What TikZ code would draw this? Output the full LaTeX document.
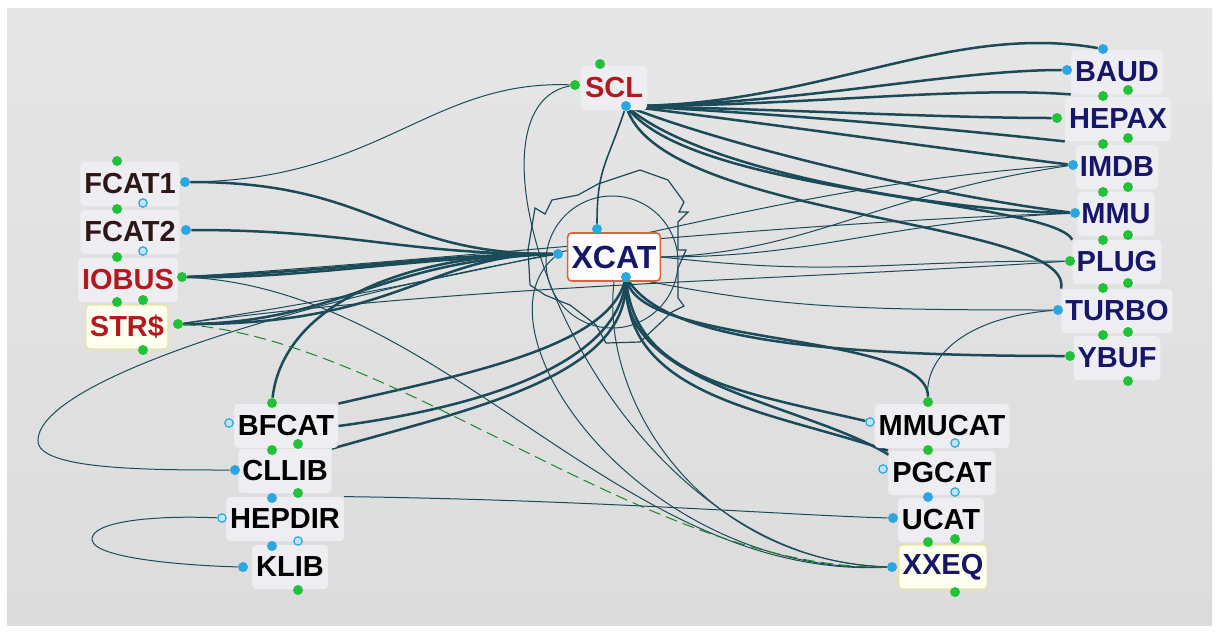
\documentclass[tikz,border=0pt]{standalone}
\usepackage{fontspec}
\setmainfont{Liberation Sans}

\definecolor{bgtop}{HTML}{E6E6E6}
\definecolor{bgmid}{HTML}{C9CACB}
\definecolor{bgbot}{HTML}{DCDCDC}
\definecolor{boxfill}{HTML}{EEEEF2}
\definecolor{yelfill}{HTML}{FFFFF0}
\definecolor{yeldraw}{HTML}{E8E4A0}
\definecolor{linkc}{HTML}{1B4A59}
\definecolor{portblue}{HTML}{2AA6E0}
\definecolor{portgreen}{HTML}{22C13A}
\definecolor{txtblue}{HTML}{17176A}
\definecolor{txtred}{HTML}{B3191E}
\definecolor{txtdark}{HTML}{2E1616}
\definecolor{ringred}{HTML}{E0603A}

\newcommand\lblfont{\bfseries\fontsize{14.5}{16}\selectfont}

\pgfdeclarelayer{bg}
\pgfdeclarelayer{edges}
\pgfsetlayers{bg,edges,main}

\begin{document}
\begin{tikzpicture}[x=0.5pt,y=-0.5pt,
    lbl/.style={rounded corners=2pt, fill=boxfill, inner xsep=2pt, inner ysep=0pt,
      minimum height=22pt, font=\lblfont},
    yel/.style={lbl, fill=yelfill, draw=yeldraw, line width=0.6pt},
    bport/.style={circle, fill=portblue, inner sep=0pt, minimum size=5pt},
    gport/.style={circle, fill=portgreen, inner sep=0pt, minimum size=5pt},
    oport/.style={circle, draw=portblue, fill=white!70!portblue, line width=0.6pt,
      inner sep=0pt, minimum size=4.2pt},
    link/.style={draw=linkc, line width=1.25pt},
    thinlink/.style={draw=linkc, line width=0.5pt},
    gdash/.style={draw=portgreen!70!black, line width=0.5pt, dash pattern=on 6pt off 3pt}]

    \useasboundingbox (0,0) rectangle (1219,633);

    % Background
    \begin{pgfonlayer}{bg}
        \fill[white] (0,0) rectangle (1219,633);
        \shade[top color=bgtop, middle color=bgmid, bottom color=bgbot] (7,8) rectangle (1212,625);
    \end{pgfonlayer}

    % Labels
    \node[lbl, text=txtred] (scl) at (614,88) {SCL};
    \node[lbl, text=txtblue, draw=ringred, line width=0.8pt, fill=white!85!boxfill,
          font=\bfseries\fontsize{16}{18}\selectfont, minimum height=24pt] (xcat) at (614,257) {XCAT};

    \node[lbl, text=txtdark] (fcat1) at (130,184) {FCAT1};
    \node[lbl, text=txtdark] (fcat2) at (130,232) {FCAT2};
    \node[lbl, text=txtred] (iobus) at (128,280) {IOBUS};
    \node[yel, text=txtred] (str) at (127,327) {STR\$};

    \node[lbl, text=txtblue] (baud) at (1117,72) {BAUD};
    \node[lbl, text=txtblue] (hepax) at (1118,119) {HEPAX};
    \node[lbl, text=txtblue] (imdb) at (1117,167) {IMDB};
    \node[lbl, text=txtblue] (mmu) at (1116,214) {MMU};
    \node[lbl, text=txtblue] (plug) at (1117,262) {PLUG};
    \node[lbl, text=txtblue] (turbo) at (1117,311) {TURBO};
    \node[lbl, text=txtblue] (ybuf) at (1117,358) {YBUF};

    \node[lbl, text=black] (bfcat) at (286,426) {BFCAT};
    \node[lbl, text=black] (cllib) at (285,471) {CLLIB};
    \node[lbl, text=black] (hepdir) at (285,519) {HEPDIR};
    \node[lbl, text=black] (klib) at (290,567) {KLIB};

    \node[lbl, text=black] (mmucat) at (942,426) {MMUCAT};
    \node[lbl, text=black] (pgcat) at (942,473) {PGCAT};
    \node[lbl, text=black] (ucat) at (941,520) {UCAT};
    \node[yel, text=txtblue] (xxeq) at (943,567) {XXEQ};

    % Ports
    \node[gport] (scl-t) at (600,64) {};
    \node[gport] (scl-l) at (575,85) {};
    \node[bport] (scl-b) at (626,106) {};
    \node[bport] (xcat-t) at (597,229) {};
    \node[bport] (xcat-l) at (558,254) {};
    \node[bport] (xcat-b) at (626,277) {};

    \node[gport] (fcat1-t) at (117,161) {};
    \node[bport] (fcat1-r) at (185,182) {};
    \node[oport] (fcat1-o) at (143,203) {};
    \node[gport] (fcat2-t) at (117,209) {};
    \node[bport] (fcat2-r) at (186,230) {};
    \node[oport] (fcat2-o) at (143,251) {};
    \node[gport] (iobus-t) at (117,257) {};
    \node[gport] (iobus-r) at (182,277) {};
    \node[gport] (str-t) at (117,302) {};
    \node[gport] (str-t2) at (143,300) {};
    \node[gport] (str-r) at (178,324) {};
    \node[gport] (str-b) at (143,350) {};

    \node[bport] (baud-t) at (1103,49) {};
    \node[bport] (baud-l) at (1067,70) {};
    \node[gport] (baud-b) at (1103,96) {};
    \node[gport] (baud-b2) at (1128,90) {};
    \node[gport] (hepax-l) at (1057,118) {};
    \node[gport] (hepax-b) at (1103,144) {};
    \node[gport] (hepax-b2) at (1128,138) {};
    \node[bport] (imdb-l) at (1073,165) {};
    \node[gport] (imdb-b) at (1103,192) {};
    \node[gport] (imdb-b2) at (1128,187) {};
    \node[bport] (mmu-l) at (1075,213) {};
    \node[gport] (mmu-b) at (1103,240) {};
    \node[gport] (mmu-b2) at (1128,235) {};
    \node[gport] (plug-l) at (1070,261) {};
    \node[gport] (plug-b) at (1103,288) {};
    \node[gport] (plug-b2) at (1128,283) {};
    \node[bport] (turbo-l) at (1058,310) {};
    \node[gport] (turbo-b) at (1103,335) {};
    \node[gport] (turbo-b2) at (1128,332) {};
    \node[gport] (ybuf-l) at (1070,356) {};
    \node[gport] (ybuf-b) at (1128,381) {};

    \node[gport] (bfcat-t) at (272,403) {};
    \node[oport] (bfcat-l) at (229,423) {};
    \node[gport] (bfcat-b) at (272,450) {};
    \node[gport] (bfcat-b2) at (298,444) {};
    \node[bport] (cllib-l) at (235,470) {};
    \node[bport] (cllib-b) at (272,498) {};
    \node[gport] (cllib-b2) at (298,493) {};
    \node[oport] (hepdir-l) at (222,518) {};
    \node[bport] (hepdir-b) at (272,546) {};
    \node[oport] (hepdir-b2) at (298,541) {};
    \node[bport] (klib-l) at (243,567) {};
    \node[gport] (klib-b) at (298,590) {};

    \node[gport] (mmucat-t) at (928,402) {};
    \node[oport] (mmucat-l) at (870,422) {};
    \node[gport] (mmucat-b) at (928,450) {};
    \node[oport] (mmucat-b2) at (955,443) {};
    \node[oport] (pgcat-l) at (883,469) {};
    \node[bport] (pgcat-b) at (928,497) {};
    \node[oport] (pgcat-b2) at (955,492) {};
    \node[bport] (ucat-l) at (893,518) {};
    \node[gport] (ucat-b) at (928,542) {};
    \node[gport] (ucat-b2) at (955,539) {};
    \node[bport] (xxeq-l) at (892,567) {};
    \node[gport] (xxeq-b) at (955,592) {};

    \begin{pgfonlayer}{edges}
        % Ring round XCAT
        \draw[thinlink, line width=0.6pt] (535,208) -- (545,214) -- (552,200) -- (578,195) -- (598,184) -- (640,170)
            -- (668,180) -- (684,202) -- (679,212) -- (688,212) -- (678,222) -- (678,250)
            -- (686,250) -- (678,268) -- (678,298) -- (684,306) -- (672,312) -- (640,342)
            -- (606,343) -- (596,325) -- (570,305) -- (545,295) -- (530,285) -- (528,250) -- cycle;
        \draw[thinlink] (612,262) circle (66);

        % Into XCAT from the left
        \draw[link] (fcat1-r) .. controls +(190,0) and +(-170,0) .. (xcat-l);
        \draw[link] (fcat2-r) .. controls +(170,0) and +(-160,0) .. (xcat-l);
        \draw[link] (iobus-r) .. controls +(120,2) and +(-150,4) .. (xcat-l);
        \draw[link] (iobus-r) .. controls +(160,-6) and +(-120,0) .. (xcat-l);
        \draw[link] (str-r) .. controls +(160,0) and +(-180,6) .. (xcat-l);
        \draw[link] (str-r) .. controls +(220,2) and +(-130,0) .. (xcat-l);
        \draw[link] (bfcat-t) .. controls +(10,-90) and +(-170,0) .. (xcat-l);

        % SCL fan to the right
        \draw[link] (scl-b) .. controls (820,105) and (950,22) .. (baud-t);
        \draw[link] (scl-b) .. controls (800,104) and (950,70) .. (baud-l);
        \draw[link] (scl-b) .. controls (800,106) and (960,86) .. (baud.south west);
        \draw[link] (scl-b) .. controls (800,110) and (950,118) .. (hepax-l);
        \draw[link] (scl-b) .. controls (790,114) and (960,130) .. (hepax.south west);
        \draw[link] (scl-b) .. controls (780,125) and (950,150) .. (imdb-l);
        \draw[link] (scl-b) .. controls (740,150) and (950,198) .. (mmu-l);
        \draw[link] (scl-b) .. controls (710,175) and (960,212) .. (mmu-l);
        \draw[link] (scl-b) .. controls (700,195) and (1050,200) .. (plug.north west);
        \draw[link] (scl-b) .. controls (670,220) and (1075,220) .. (turbo.north west);
        \draw[thinlink, line width=0.8pt] (xcat-t) .. controls +(0,-60) and +(-20,60) .. (scl-b);

        % XCAT fan downwards
        \draw[link] (xcat-b) .. controls +(-20,70) and +(130,-30) .. (bfcat.north east);
        \draw[link] (xcat-b) .. controls +(-10,85) and +(150,-20) .. (bfcat.east);
        \draw[link] (xcat-b) .. controls +(0,100) and +(140,-40) .. (cllib.north east);
        \draw[link] (xcat-b) .. controls +(20,70) and +(0,-70) .. (mmucat-t);
        \draw[link] (xcat-b) .. controls +(10,100) and +(-130,-30) .. (mmucat-l);
        \draw[link] (xcat-b) .. controls +(0,120) and +(-120,-40) .. (pgcat.north west);
        \draw[link] (xcat-b) .. controls +(-5,130) and +(-40,-90) .. (pgcat-b);
        \draw[link] (xcat-b) .. controls +(40,60) and +(-260,0) .. (ybuf-l);

        % Thin links across
        \draw[thinlink] (xcat.east) .. controls +(150,-5) and +(-200,30) .. (imdb-l);
        \draw[thinlink] (xcat.east) .. controls +(160,0) and +(-200,10) .. (mmu-l);
        \draw[thinlink] (xcat.east) .. controls +(180,20) and +(-200,0) .. (plug-l);
        \draw[thinlink] (xcat-b) .. controls +(150,30) and +(-220,0) .. (turbo-l);
        \draw[thinlink] (iobus-r) .. controls +(300,-20) and +(-300,10) .. (mmu-l);
        \draw[thinlink] (str-r) .. controls +(300,-40) and +(-300,20) .. (plug-l);
        \draw[thinlink] (str-r) .. controls +(400,-60) and +(-300,20) .. (imdb-l);
        \draw[thinlink] (turbo-l) .. controls (960,318) and (925,360) .. (mmucat-t);
        \draw[thinlink] (scl-l) .. controls (430,80) and (380,180) .. (fcat1-r);

        % Thin links to XXEQ
        \draw[thinlink] (scl-l) .. controls (440,110) and (600,560) .. (xxeq-l);
        \draw[thinlink] (iobus-r) .. controls (450,290) and (620,580) .. (xxeq-l);
        \draw[thinlink] (xcat-l) .. controls (470,330) and (640,575) .. (xxeq-l);
        \draw[thinlink] (xcat.south) .. controls (600,400) and (700,560) .. (xxeq-l);
        \draw[gdash] (str-r) .. controls (400,340) and (650,570) .. (xxeq-l);

        % Loops on the left
        \draw[thinlink] (xcat-l) .. controls (300,300) and (40,380) .. (38,440)
            .. controls (36,470) and (150,470) .. (cllib-l);
        \draw[thinlink] (hepdir-l) .. controls (150,515) and (90,522) .. (92,540)
            .. controls (95,560) and (200,566) .. (klib-l);
        \draw[thinlink] (hepdir.north east) .. controls (600,500) and (800,516) .. (ucat-l);
    \end{pgfonlayer}
\end{tikzpicture}
\end{document}
